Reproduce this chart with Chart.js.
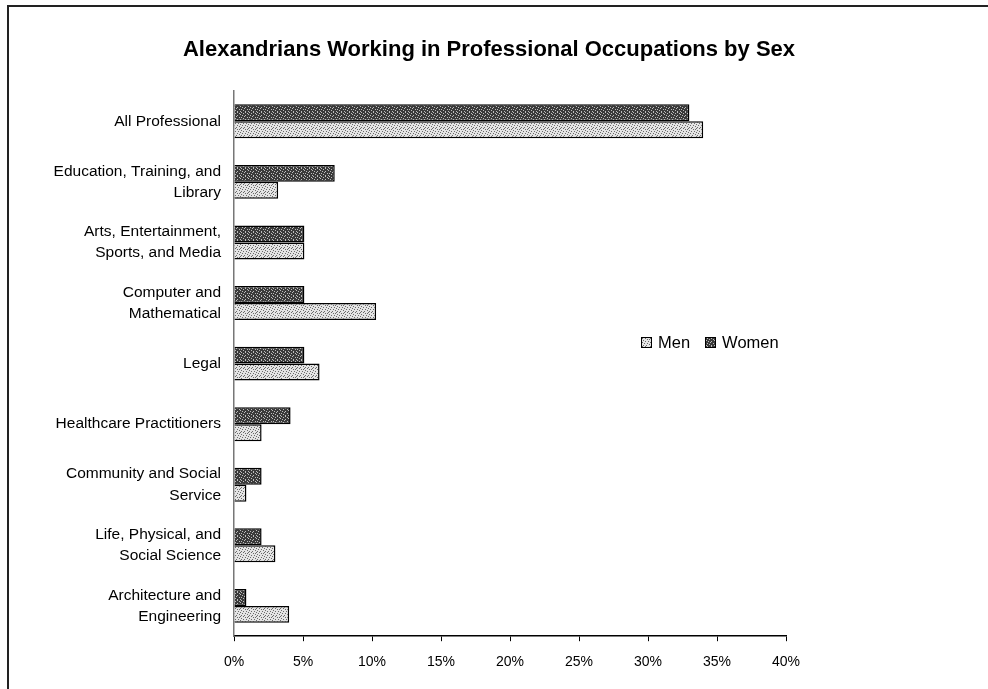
<!DOCTYPE html>
<html>
<head>
<meta charset="utf-8">
<script src="https://cdn.jsdelivr.net/npm/chart.js@4"></script>
<style>
  html, body { margin: 0; padding: 0; background: #fff; }
  #wrap { position: relative; width: 988px; height: 689px; }
  #frame { position: absolute; left: 7px; top: 5px; right: 0; bottom: 0; border-top: 2px solid #222; border-left: 2px solid #222; pointer-events: none; }
  #title { position: absolute; left: 0; width: 978px; top: 36px; text-align: center; font: bold 22px "Liberation Sans", Arial, sans-serif; color: #000; }
  #legend { position: absolute; left: 641px; top: 333px; font: 16.5px "Liberation Sans", Arial, sans-serif; color: #000; display: flex; gap: 15px; }
  #legend span { display: inline-flex; align-items: center; }
  #legend canvas { width: 9px; height: 9px; border: 1px solid #000; margin-right: 6px; }
</style>
</head>
<body>
<div id="wrap">
  <canvas id="chart" width="988" height="689"></canvas>
  <div id="frame"></div>
  <div id="title">Alexandrians Working in Professional Occupations by Sex</div>
  <div id="legend"></div>
</div>
<script>
const categories = [
  "All Professional",
  ["Education, Training, and", "Library"],
  ["Arts, Entertainment,", "Sports, and Media"],
  ["Computer and", "Mathematical"],
  "Legal",
  "Healthcare Practitioners",
  ["Community and Social", "Service"],
  ["Life, Physical, and", "Social Science"],
  ["Architecture and", "Engineering"],
];
const women = [33, 7.3, 5.1, 5.1, 5.1, 4.1, 2, 2, 0.9];
const men = [34, 3.2, 5.1, 10.3, 6.2, 2, 0.9, 3, 4];
const xTicks = [0, 5, 10, 15, 20, 25, 30, 35, 40];

const FONT = '"Liberation Sans", Arial, sans-serif';

// fixed dither masks so the bars get the printed, speckled look
const darkMask = [
  "01000100",
  "00010001",
  "10000000",
  "00100100",
  "00001000",
  "01000001",
  "00010000",
  "10000100",
];
const lightMask = [
  "10010000",
  "00000101",
  "01000000",
  "00010010",
  "10000000",
  "00100100",
  "00000001",
  "01001000",
];

function makePattern(base, speck, mask) {
  const c = document.createElement("canvas");
  c.width = 8;
  c.height = 8;
  const g = c.getContext("2d");
  g.fillStyle = base;
  g.fillRect(0, 0, 8, 8);
  g.fillStyle = speck;
  mask.forEach((row, y) => {
    [...row].forEach((bit, x) => {
      if (bit === "1") g.fillRect(x, y, 1, 1);
    });
  });
  return c;
}

const darkTile = makePattern("#3a3a3a", "#bdbdbd", darkMask);
const lightTile = makePattern("#e4e4e4", "#6a6a6a", lightMask);
const ctx = document.getElementById("chart").getContext("2d");
const darkFill = ctx.createPattern(darkTile, "repeat");
const lightFill = ctx.createPattern(lightTile, "repeat");

const chart = new Chart(ctx, {
  type: "bar",
  data: {
    labels: categories,
    datasets: [
      {
        label: "Women",
        data: women,
        backgroundColor: darkFill,
        borderColor: "#000",
        borderWidth: 1.5,
        borderSkipped: "left",
        barPercentage: 1,
        categoryPercentage: 0.56,
      },
      {
        label: "Men",
        data: men,
        backgroundColor: lightFill,
        borderColor: "#000",
        borderWidth: 1.5,
        borderSkipped: "left",
        barPercentage: 1,
        categoryPercentage: 0.56,
      },
    ],
  },
  options: {
    indexAxis: "y",
    responsive: false,
    animation: false,
    layout: { padding: { left: 0, right: 202, top: 91, bottom: 5 } },
    plugins: {
      legend: { display: false },
      tooltip: { enabled: false },
      title: { display: false },
    },
    scales: {
      x: {
        min: 0,
        max: 40,
        afterBuildTicks: (scale) => {
          scale.ticks = xTicks.map((v) => ({ value: v }));
        },
        ticks: {
          color: "#000",
          font: { family: FONT, size: 14 },
          padding: 13,
          maxRotation: 0,
          callback: (v) => `${v}%`,
        },
        grid: { drawOnChartArea: false, drawTicks: true, tickLength: 5, color: "#000", lineWidth: 1 },
        border: { color: "#000", width: 1.5 },
      },
      y: {
        ticks: {
          color: "#000",
          font: { family: FONT, size: 15.5, lineHeight: 1.36 },
          padding: 13,
        },
        grid: { display: false, drawTicks: false },
        border: { color: "#777", width: 1.5 },
        afterFit: (scale) => {
          scale.width = 234;
        },
      },
    },
  },
});

// legend, Men first as in the original
const legend = document.getElementById("legend");
[...chart.data.datasets].reverse().forEach((ds) => {
  const item = document.createElement("span");
  const sw = document.createElement("canvas");
  sw.width = 9;
  sw.height = 9;
  const sg = sw.getContext("2d");
  sg.fillStyle = ds.label === "Men" ? lightFill : darkFill;
  sg.fillRect(0, 0, 9, 9);
  item.appendChild(sw);
  item.appendChild(document.createTextNode(ds.label));
  legend.appendChild(item);
});
</script>
</body>
</html>
